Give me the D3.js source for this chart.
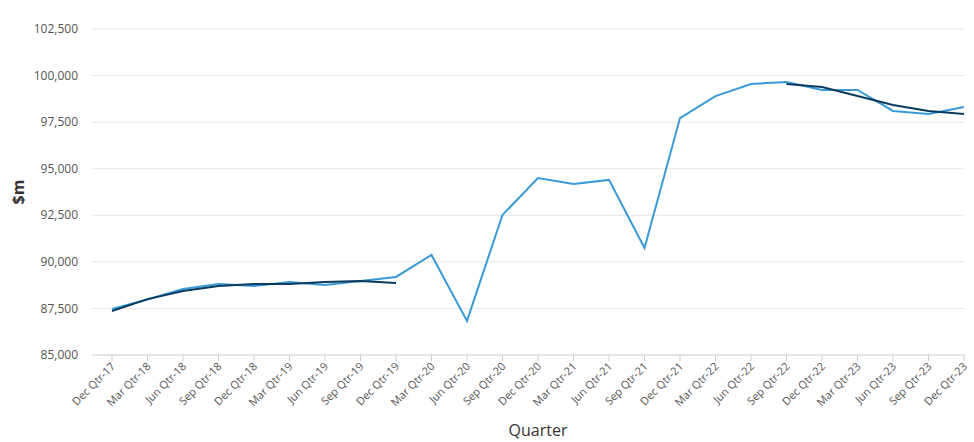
<!DOCTYPE html>
<html><head><meta charset="utf-8">
<script src="https://cdn.jsdelivr.net/npm/d3@7"></script>
<style>body{margin:0;background:#fff;font-family:"Open Sans",sans-serif}</style>
</head><body><svg id="chart" width="974" height="442"></svg>
<script>
var quarters = ["Dec Qtr-17","Mar Qtr-18","Jun Qtr-18","Sep Qtr-18","Dec Qtr-18","Mar Qtr-19","Jun Qtr-19","Sep Qtr-19","Dec Qtr-19","Mar Qtr-20","Jun Qtr-20","Sep Qtr-20","Dec Qtr-20","Mar Qtr-21","Jun Qtr-21","Sep Qtr-21","Dec Qtr-21","Mar Qtr-22","Jun Qtr-22","Sep Qtr-22","Dec Qtr-22","Mar Qtr-23","Jun Qtr-23","Sep Qtr-23","Dec Qtr-23"];
var seasonal = [87470,87980,88540,88810,88700,88920,88760,88970,89190,90370,86830,92520,94500,94180,94400,90740,97720,98900,99550,99660,99230,99230,98100,97940,98310];
var trend = [87360,88000,88440,88700,88810,88810,88920,88970,88870,null,null,null,null,null,null,null,null,null,null,99550,99390,98900,98420,98100,97940];
var yTicks = [85000,87500,90000,92500,95000,97500,100000,102500];

var margin = {top: 29, right: 10, bottom: 87, left: 112},
    width = 974 - margin.left - margin.right,
    height = 442 - margin.top - margin.bottom;
var svg = d3.select("#chart");
var g = svg.append("g").attr("transform", "translate(" + margin.left + "," + margin.top + ")");

var x = d3.scalePoint().domain(quarters).range([0, 852]);
var y = d3.scaleLinear().domain([85000, 102500]).range([height, 0]);

// grid
g.selectAll(".grid").data(yTicks).enter().append("line")
  .attr("x1", -20).attr("x2", width).attr("y1", d => y(d)).attr("y2", d => y(d))
  .attr("stroke", d => d == 85000 ? "#ccc" : "#e6e6e6").attr("stroke-width", 1);

g.selectAll(".ylab").data(yTicks).enter().append("text")
  .attr("x", -34).attr("y", d => y(d)).attr("dy", "0.35em")
  .attr("text-anchor", "end").attr("font-size", 12).attr("fill", "#555")
  .text(d => d3.format(",")(d));

quarters.forEach(function(q) {
  g.append("line").attr("x1", x(q)).attr("x2", x(q)).attr("y1", height).attr("y2", height + 6).attr("stroke", "#ccc");
  g.append("text").attr("transform", "translate(" + (x(q) + 4) + "," + (height + 12) + ") rotate(-45)")
    .attr("text-anchor", "end").attr("font-size", 11).attr("fill", "#555").text(q);
});

var line = d3.line().defined(d => d[1] != null).x(d => x(d[0])).y(d => y(d[1]));
g.append("path").datum(quarters.map((q, i) => [q, seasonal[i]]))
  .attr("d", line).attr("fill", "none").attr("stroke", "#3a9ad6").attr("stroke-width", 2);
g.append("path").datum(quarters.map((q, i) => [q, trend[i]]))
  .attr("d", line).attr("fill", "none").attr("stroke", "#0b3b5e").attr("stroke-width", 2);

svg.append("text").attr("transform", "translate(24," + (margin.top + height / 2) + ") rotate(-90)")
  .attr("text-anchor", "middle").attr("font-size", 16).attr("font-weight", "bold").attr("fill", "#333").text("$m");
svg.append("text").attr("x", 538).attr("y", 436).attr("text-anchor", "middle")
  .attr("font-size", 16).attr("fill", "#333").text("Quarter");
</script></body></html>
